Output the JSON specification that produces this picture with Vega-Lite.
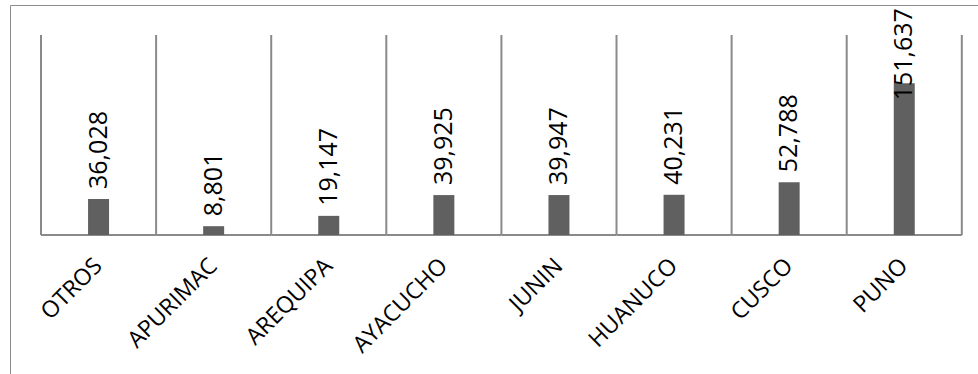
{
  "$schema": "https://vega.github.io/schema/vega-lite/v6.json",
  "autosize": {"type": "none"},
  "padding": {"left": 10, "top": 5, "right": 0, "bottom": 0},
  "width": 968,
  "height": 369,
  "background": "white",
  "config": {
    "view": {"stroke": "#8c8c8c", "strokeWidth": 1, "strokeDash": [968, 1337, 369, 0]},
    "font": "Open Sans"
  },
  "data": {
    "values": [
      {"region": "OTROS", "value": 36028},
      {"region": "APURIMAC", "value": 8801},
      {"region": "AREQUIPA", "value": 19147},
      {"region": "AYACUCHO", "value": 39925},
      {"region": "JUNIN", "value": 39947},
      {"region": "HUANUCO", "value": 40231},
      {"region": "CUSCO", "value": 52788},
      {"region": "PUNO", "value": 151637}
    ]
  },
  "encoding": {
    "x": {
      "field": "region",
      "type": "nominal",
      "sort": null,
      "title": null,
      "scale": {"paddingInner": 0, "paddingOuter": 0.205, "align": 0.657},
      "axis": {
        "orient": "bottom",
        "offset": -139,
        "domain": false,
        "ticks": false,
        "grid": false,
        "labelAngle": -45,
        "labelAlign": "right",
        "labelBaseline": "middle",
        "labelPadding": 27,
        "labelFont": "Open Sans",
        "labelFontSize": 23,
        "labelColor": "#000000"
      }
    },
    "y": {
      "field": "value",
      "type": "quantitative",
      "scale": {"domain": [-139000, 230000], "nice": false, "zero": false},
      "axis": null
    }
  },
  "layer": [
    {
      "mark": {"type": "rule", "color": "#8a8a8a", "strokeWidth": 2},
      "encoding": {
        "x": {"field": "region", "type": "nominal", "sort": null, "title": null, "bandPosition": 0},
        "y": {"datum": 200000},
        "y2": {"datum": 0}
      }
    },
    {
      "transform": [{"filter": "datum.region === 'PUNO'"}],
      "mark": {"type": "rule", "color": "#8a8a8a", "strokeWidth": 2},
      "encoding": {
        "x": {"field": "region", "type": "nominal", "sort": null, "title": null, "bandPosition": 1},
        "y": {"datum": 200000},
        "y2": {"datum": 0}
      }
    },
    {
      "mark": {"type": "rule", "color": "#8a8a8a", "strokeWidth": 2},
      "encoding": {
        "x": {"field": "region", "type": "nominal", "sort": null, "title": null, "bandPosition": 0},
        "x2": {"field": "region", "bandPosition": 1},
        "y": {"datum": 0}
      }
    },
    {
      "mark": {"type": "bar", "color": "#606060", "width": 21}
    },
    {
      "transform": [{"filter": "datum.value < 100000"}],
      "mark": {"type": "text", "angle": 270, "align": "left", "baseline": "middle", "dx": 10, "fontSize": 25, "font": "Open Sans", "color": "#000000"},
      "encoding": {
        "text": {"field": "value", "type": "quantitative", "format": ","}
      }
    },
    {
      "transform": [{"filter": "datum.value >= 100000"}],
      "mark": {"type": "text", "angle": 270, "align": "left", "baseline": "middle", "dx": -17, "fontSize": 25, "font": "Open Sans", "color": "#000000"},
      "encoding": {
        "text": {"field": "value", "type": "quantitative", "format": ","}
      }
    }
  ]
}
